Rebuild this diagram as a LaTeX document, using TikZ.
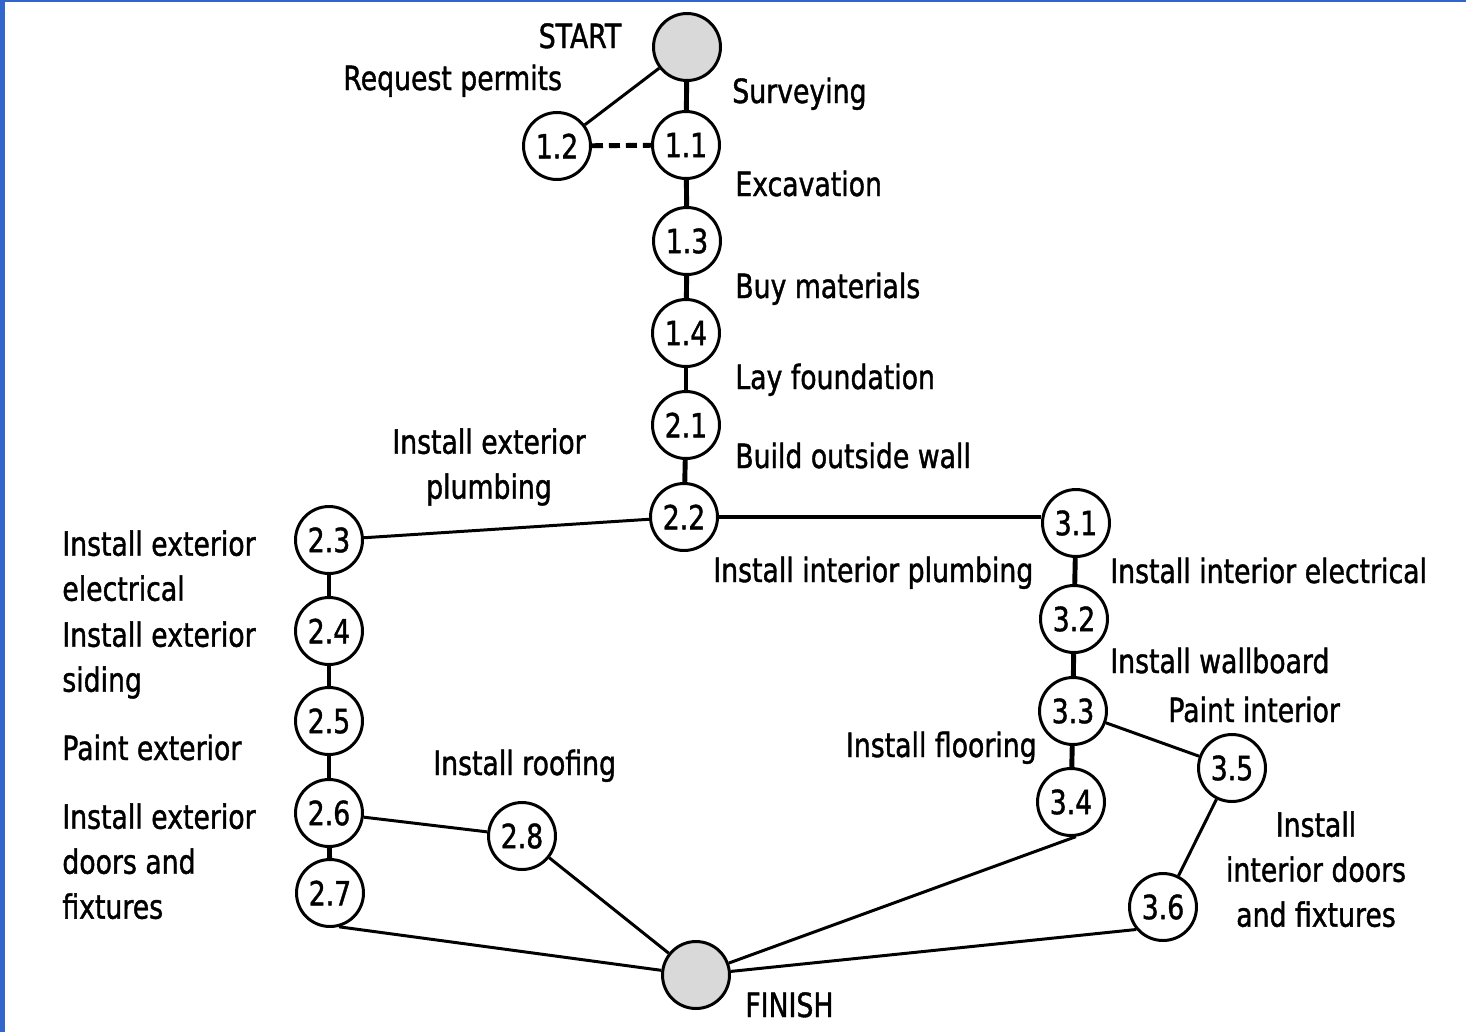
\documentclass[tikz,border=0pt]{standalone}
\usepackage{fontspec}
\setmainfont{DejaVu Sans}[FakeStretch=0.8,FakeBold=1.2]
\definecolor{blueedge}{RGB}{50,102,205}

\begin{document}
\begin{tikzpicture}[x=0.02cm,y=-0.02cm,
  every node/.style={font=\fontsize{19}{25.6}\selectfont},
  event/.style={circle,draw,line width=1.7pt,minimum size=1.34cm,inner sep=0pt,fill=white},
  endpoint/.style={event,fill=black!15},
  crit/.style={line width=2.8pt},
  link/.style={line width=1.7pt},
  lbl/.style={inner sep=0pt}]
\useasboundingbox (0,0) rectangle (1466,1032);
\fill[blueedge] (0,0) rectangle (5,1032);
\fill[blueedge] (0,0) rectangle (1466,2);

\node[endpoint] (start) at (687,47) {};
\node[event] (n12) at (557,146) {1.2};
\node[event] (n11) at (686,145) {1.1};
\node[event] (n13) at (687,241) {1.3};
\node[event] (n14) at (686,333) {1.4};
\node[event] (n21) at (686,425) {2.1};
\node[event] (n22) at (684,517) {2.2};
\node[event] (n23) at (329,540) {2.3};
\node[event] (n24) at (329,631) {2.4};
\node[event] (n25) at (329,721) {2.5};
\node[event] (n26) at (329,813) {2.6};
\node[event] (n27) at (330,893) {2.7};
\node[event] (n28) at (522,836) {2.8};
\node[event] (n31) at (1076,523) {3.1};
\node[event] (n32) at (1074,619) {3.2};
\node[event] (n33) at (1073,711) {3.3};
\node[event] (n34) at (1071,802) {3.4};
\node[event] (n35) at (1232,768) {3.5};
\node[event] (n36) at (1163,907) {3.6};
\node[endpoint] (finish) at (696,975) {};

\draw[crit] (start) -- (n11);
\draw[link] (start) -- (n12);
\draw[crit,dash pattern=on 0.22cm off 0.12cm] (n12) -- (n11);
\draw[crit] (n11) -- (n13);
\draw[crit] (n13) -- (n14);
\draw[crit] (n14) -- (n21);
\draw[crit] (n21) -- (n22);
\draw[crit] (n22) -- (n22 -| n31.west);
\draw[link] (n22) -- (n23);
\draw[crit] (n23) -- (n24);
\draw[crit] (n24) -- (n25);
\draw[crit] (n25) -- (n26);
\draw[crit] (n26) -- (n27);
\draw[link] (n26) -- (n28);
\draw[link] (n28) -- (finish);
\draw[link] (n27.285) -- (finish);
\draw[crit] (n31) -- (n32);
\draw[crit] (n32) -- (n33);
\draw[crit] (n33) -- (n34);
\draw[link] (n33) -- (n35);
\draw[link] (n35) -- (n36);
\draw[link] (n34.278) -- (finish);
\draw[link] (n36.220) -- (finish);

\node[lbl,anchor=base] (tstart) at (580,48) {START};
\node[lbl,anchor=base west] (treq) at (343,90) {Request permits};
\node[lbl,anchor=base west] (tsurv) at (732,103) {Surveying};
\node[lbl,anchor=base west] (texcav) at (735,196) {Excavation};
\node[lbl,anchor=base west] (tbuy) at (735,298) {Buy materials};
\node[lbl,anchor=base west] (tlay) at (735,389) {Lay foundation};
\node[lbl,anchor=base west] (tbuild) at (735,468) {Build outside wall};
\node[lbl,anchor=north,align=center] (textplumb) at (489,428) {Install exterior\\plumbing};
\node[lbl,anchor=base west] (tintplumb) at (713,582) {Install interior plumbing};
\node[lbl,anchor=base west] (tintelec) at (1110,583) {Install interior electrical};
\node[lbl,anchor=base west] (twall) at (1110,673) {Install wallboard};
\node[lbl,anchor=base west] (tpaintin) at (1168,722) {Paint interior};
\node[lbl,anchor=base east] (tfloor) at (1037,757) {Install flooring};
\node[lbl,anchor=north,align=center] (tintdoors) at (1316,811) {Install\\interior doors\\and fixtures};
\node[lbl,anchor=north west,align=left] (textelec) at (62,530) {Install exterior\\electrical};
\node[lbl,anchor=north west,align=left] (textsiding) at (62,621) {Install exterior\\siding};
\node[lbl,anchor=base west] (tpaintex) at (62,760) {Paint exterior};
\node[lbl,anchor=north west,align=left] (textdoors) at (62,803) {Install exterior\\doors and\\fixtures};
\node[lbl,anchor=base west] (troof) at (433,775) {Install roofing};
\node[lbl,anchor=base west] (tfinish) at (745,1017) {FINISH};
\end{tikzpicture}
\end{document}
